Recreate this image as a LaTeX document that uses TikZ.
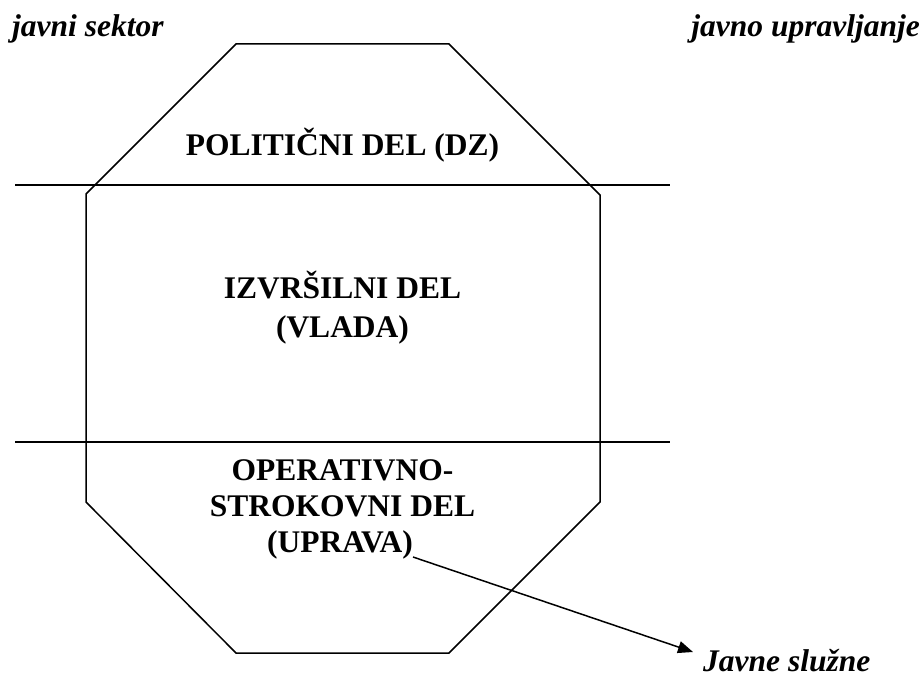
\documentclass[tikz,border=0pt]{standalone}
\usepackage{fontspec}
\setmainfont{Liberation Serif}
\usetikzlibrary{arrows.meta}
\begin{document}
\begin{tikzpicture}[x=1pt,y=-1pt,
  ln/.style={line width=1.5pt},
  lbl/.style={font=\fontsize{31.5}{36}\selectfont\bfseries, inner sep=0pt, anchor=base},
  ilbl/.style={font=\fontsize{31.5}{36}\selectfont\bfseries\itshape, inner sep=0pt}]
\useasboundingbox (0,0) rectangle (923,677);
% octagon
\coordinate (o1) at (236,44);
\coordinate (o2) at (449,44);
\coordinate (o3) at (600,195);
\coordinate (o4) at (600,502);
\coordinate (o5) at (449,653);
\coordinate (o6) at (236,653);
\coordinate (o7) at (86,502);
\coordinate (o8) at (86,194);
\draw[ln, line join=miter] (o1) -- (o2) -- (o3) -- (o4) -- (o5) -- (o6) -- (o7) -- (o8) -- cycle;
% horizontal lines
\coordinate (h1a) at (15,185);
\coordinate (h1b) at (670,185);
\coordinate (h2a) at (15,442);
\coordinate (h2b) at (670,442);
\draw[ln] (h1a) -- (h1b);
\draw[ln] (h2a) -- (h2b);
% corner labels
\node[ilbl, anchor=base west] (js) at (12,37) {javni sektor};
\node[ilbl, anchor=base east] (ju) at (920,37) {javno upravljanje};
% section labels
\node[lbl] (pol) at (342.5,155) {POLITIČNI DEL (DZ)};
\node[lbl] (izv1) at (342.5,298) {IZVRŠILNI DEL};
\node[lbl] (izv2) at (342.5,337) {(VLADA)};
\node[lbl] (op1) at (342.5,480) {OPERATIVNO-};
\node[lbl] (op2) at (342.5,516) {STROKOVNI DEL};
\node[lbl] (op3) at (340,552) {(UPRAVA)};
% arrow
\coordinate (as) at (413,557);
\coordinate (ae) at (693,652);
\draw[ln, -{Triangle[length=15pt,width=12pt]}] (as) -- (ae);
\node[ilbl, anchor=base west] (jsl) at (703,671) {Javne služne};
\end{tikzpicture}
\end{document}
